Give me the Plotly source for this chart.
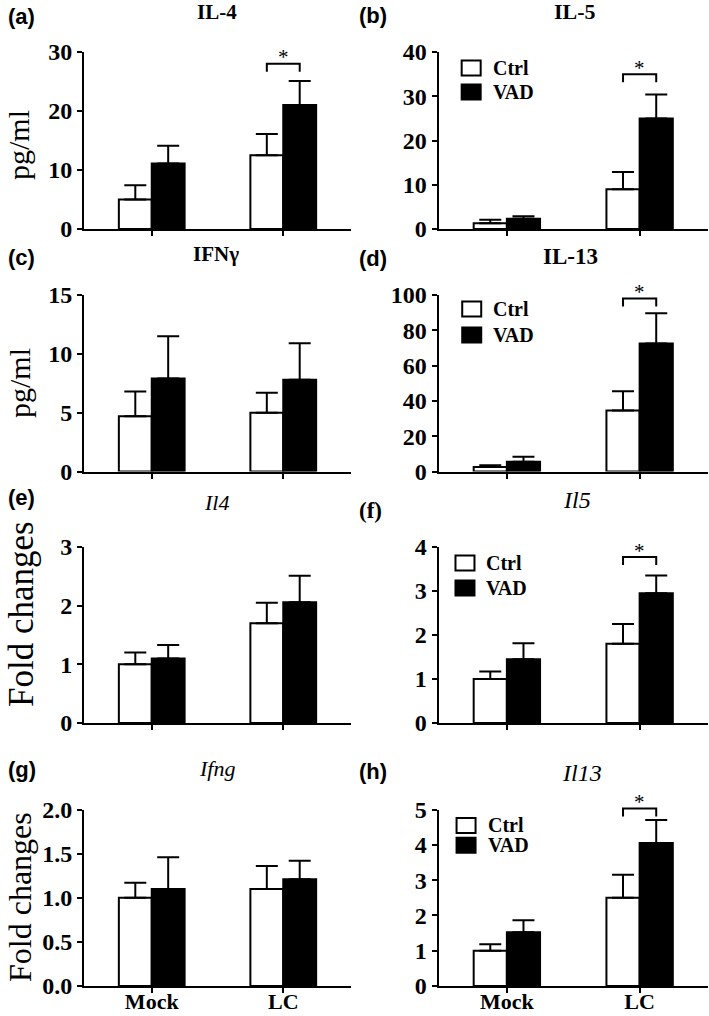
import plotly.graph_objects as go

# ---------------- data ----------------
groups = ["Mock", "LC"]
series_names = ["Ctrl", "VAD"]

# protein levels, pg/ml
il4_ctrl, il4_ctrl_err = [5.0, 12.5], [2.4, 3.6]
il4_vad, il4_vad_err = [11.1, 21.0], [3.0, 4.1]
il5_ctrl, il5_ctrl_err = [1.3, 9.0], [0.8, 3.9]
il5_vad, il5_vad_err = [2.3, 25.0], [0.6, 5.4]
ifng_ctrl, ifng_ctrl_err = [4.7, 5.0], [2.1, 1.7]
ifng_vad, ifng_vad_err = [7.9, 7.8], [3.6, 3.1]
il13_ctrl, il13_ctrl_err = [2.5, 34.5], [1.1, 11.0]
il13_vad, il13_vad_err = [5.5, 72.5], [2.8, 17.2]

# mRNA fold changes
il4m_ctrl, il4m_ctrl_err = [1.0, 1.70], [0.20, 0.35]
il4m_vad, il4m_vad_err = [1.10, 2.06], [0.23, 0.45]
il5m_ctrl, il5m_ctrl_err = [1.0, 1.80], [0.17, 0.45]
il5m_vad, il5m_vad_err = [1.45, 2.95], [0.36, 0.40]
ifngm_ctrl, ifngm_ctrl_err = [1.0, 1.10], [0.17, 0.26]
ifngm_vad, ifngm_vad_err = [1.10, 1.21], [0.36, 0.21]
il13m_ctrl, il13m_ctrl_err = [1.0, 2.50], [0.18, 0.65]
il13m_vad, il13m_vad_err = [1.52, 4.05], [0.34, 0.65]

panel_letters = ["(a)", "(b)", "(c)", "(d)", "(e)", "(f)", "(g)", "(h)"]
panel_titles = ["<b>IL-4</b>", "<b>IL-5</b>", "<b>IFNγ</b>", "<b>IL-13</b>",
                "<i>Il4</i>", "<i>Il5</i>", "<i>Ifng</i>", "<i>Il13</i>"]
y_max = [30, 40, 15, 100, 3, 4, 2, 5]
y_dtick = [10, 10, 5, 20, 1, 1, 0.5, 1]
y_format = ["d", "d", "d", "d", "d", "d", ".1f", "d"]
# height of the significance bracket (None = no bracket)
sig_bracket_y = [28.0, 35.0, None, 98.0, None, 3.77, None, 5.03]

ctrl_vals = [il4_ctrl, il5_ctrl, ifng_ctrl, il13_ctrl, il4m_ctrl, il5m_ctrl, ifngm_ctrl, il13m_ctrl]
ctrl_errs = [il4_ctrl_err, il5_ctrl_err, ifng_ctrl_err, il13_ctrl_err,
             il4m_ctrl_err, il5m_ctrl_err, ifngm_ctrl_err, il13m_ctrl_err]
vad_vals = [il4_vad, il5_vad, ifng_vad, il13_vad, il4m_vad, il5m_vad, ifngm_vad, il13m_vad]
vad_errs = [il4_vad_err, il5_vad_err, ifng_vad_err, il13_vad_err,
            il4m_vad_err, il5m_vad_err, ifngm_vad_err, il13m_vad_err]

# ---------------- layout geometry (pixels) ----------------
W, H = 709, 1016
col_px = [(84, 351), (438.5, 708)]
row_px = [(52, 229), (295, 471.5), (547, 723), (809.5, 986)]
XR = [-0.515, 1.515]

SERIF = "Liberation Serif"
SANS = "Liberation Sans"

fig = go.Figure()
shapes = []
annotations = []


def px_x(x):
    return x / W


def px_y(y):
    return 1 - y / H


for i in range(8):
    r, c = divmod(i, 2)
    n = "" if i == 0 else str(i + 1)
    xa, ya = "x" + n, "y" + n
    x0, x1 = col_px[c]
    y0, y1 = row_px[r]
    dom_w = x1 - x0
    dom_h = y1 - y0

    for name, vals, errs, fill in [("Ctrl", ctrl_vals[i], ctrl_errs[i], "white"),
                                   ("VAD", vad_vals[i], vad_errs[i], "black")]:
        fig.add_trace(go.Bar(
            x=groups, y=vals, name=name, xaxis=xa, yaxis=ya, showlegend=False,
            marker=dict(color=fill, line=dict(color="black", width=2)),
            error_y=dict(type="data", symmetric=False, array=errs,
                         arrayminus=[0] * len(errs), color="black",
                         thickness=2, width=11),
        ))

    bottom = (r == 3)
    fig.layout["xaxis" + n] = dict(
        domain=[px_x(x0), px_x(x1)], anchor=ya, range=XR, automargin=False,
        type="category", showline=True, linecolor="black", linewidth=2,
        ticks="outside", ticklen=5, tickwidth=2, tickcolor="black",
        showgrid=False, zeroline=False, showticklabels=bottom,
        ticklabelstandoff=-10,
        tickfont=dict(family=SERIF, size=22, color="black", weight="bold"),
        fixedrange=True,
    )
    fig.layout["yaxis" + n] = dict(
        domain=[px_y(y1), px_y(y0)], anchor=xa, range=[0, y_max[i]], automargin=False,
        dtick=y_dtick[i], tick0=0, tickformat=y_format[i],
        showline=True, linecolor="black", linewidth=2,
        ticks="outside", ticklen=5, tickwidth=2, tickcolor="black",
        showgrid=False, zeroline=False,
        tickfont=dict(family=SERIF, size=24, color="black", weight="bold"),
        fixedrange=True,
    )

    # significance bracket
    sy = sig_bracket_y[i]
    if sy is not None:
        def fx(v):
            return (v - XR[0]) / (XR[1] - XR[0])
        top = sy / y_max[i]
        leg = 8 / dom_h
        xl, xr_ = fx(1 - 0.125), fx(1 + 0.125)
        shapes.append(dict(
            type="path", xref=xa + " domain", yref=ya + " domain",
            path=f"M {xl},{top - leg} L {xl},{top} L {xr_},{top} L {xr_},{top - leg}",
            line=dict(color="black", width=2),
        ))
        annotations.append(dict(
            text="*", xref=xa + " domain", yref=ya + " domain",
            x=fx(1), y=top + 6.5 / dom_h, xanchor="center", yanchor="middle",
            showarrow=False, font=dict(family=SERIF, size=21, color="black"),
        ))

# ---------------- legends (right column panels) ----------------
legend_pos = {1: (0.086, 0.91, 0.774), 3: (0.088, 0.92, 0.773),
              5: (0.063, 0.909, 0.767), 7: (0.067, 0.91, 0.797)}
for i, (lx, cy, vy) in legend_pos.items():
    n = str(i + 1)
    dom_w = col_px[1][1] - col_px[1][0]
    dom_h = row_px[i // 2][1] - row_px[i // 2][0]
    bw, bh = 19 / dom_w, 15 / dom_h
    for name, yc, fill in [(series_names[0], cy, "white"), (series_names[1], vy, "black")]:
        shapes.append(dict(
            type="rect", xref="x" + n + " domain", yref="y" + n + " domain",
            x0=lx, x1=lx + bw, y0=yc - bh / 2, y1=yc + bh / 2,
            fillcolor=fill, line=dict(color="black", width=2),
        ))
        annotations.append(dict(
            text="<b>" + name + "</b>", xref="x" + n + " domain", yref="y" + n + " domain",
            x=lx + bw + 10 / dom_w, y=yc, xanchor="left", yanchor="middle",
            showarrow=False, font=dict(family=SERIF, size=20, color="black"),
        ))

# ---------------- panel letters, titles, y titles ----------------
letter_pos = [(6, 17), (357, 16), (6, 257), (357, 258), (6, 497), (357, 510), (6, 769), (357, 771)]
for i, (lx, ly) in enumerate(letter_pos):
    fam = SERIF if i == 5 else SANS
    annotations.append(dict(
        text="<b>" + panel_letters[i] + "</b>", xref="paper", yref="paper",
        x=px_x(lx), y=px_y(ly), xanchor="left", yanchor="middle", showarrow=False,
        font=dict(family=fam, size=23 if i == 5 else 22, color="black"),
    ))

title_pos = [(217, 12), (575, 12), (216, 254), (570, 256), (216, 502), (577, 500), (217, 768), (582, 773)]
title_size = [21, 22, 21, 23, 22, 24, 22, 24]
for i, (tx, ty) in enumerate(title_pos):
    annotations.append(dict(
        text=panel_titles[i], xref="paper", yref="paper",
        x=px_x(tx), y=px_y(ty), xanchor="center", yanchor="middle", showarrow=False,
        font=dict(family=SERIF, size=title_size[i], color="black"),
    ))

ytitles = [("pg/ml", 19, 145, 30), ("pg/ml", 19, 383, 30),
           ("Fold changes", 21, 614, 35), ("Fold changes", 20, 897, 32)]
for text, tx, ty, sz in ytitles:
    annotations.append(dict(
        text=text, xref="paper", yref="paper", textangle=-90,
        x=px_x(tx), y=px_y(ty), xanchor="center", yanchor="middle", showarrow=False,
        font=dict(family=SERIF, size=sz, color="black"),
    ))

fig.update_layout(
    template="none",
    width=W, height=H, autosize=False,
    margin=dict(l=0, r=0, t=0, b=0, pad=0),
    paper_bgcolor="white", plot_bgcolor="white",
    font=dict(family=SERIF, color="black"),
    barmode="group", bargap=0.5, bargroupgap=0,
    shapes=shapes, annotations=annotations,
    showlegend=False,
)

# the page's default 8px body margin would push the 709x1016 figure out of the window
fig.write_html("out.html", config={"displayModeBar": False},
               post_script="document.body.style.margin='0';document.body.style.padding='0';"
                           "document.body.style.overflow='hidden';")
